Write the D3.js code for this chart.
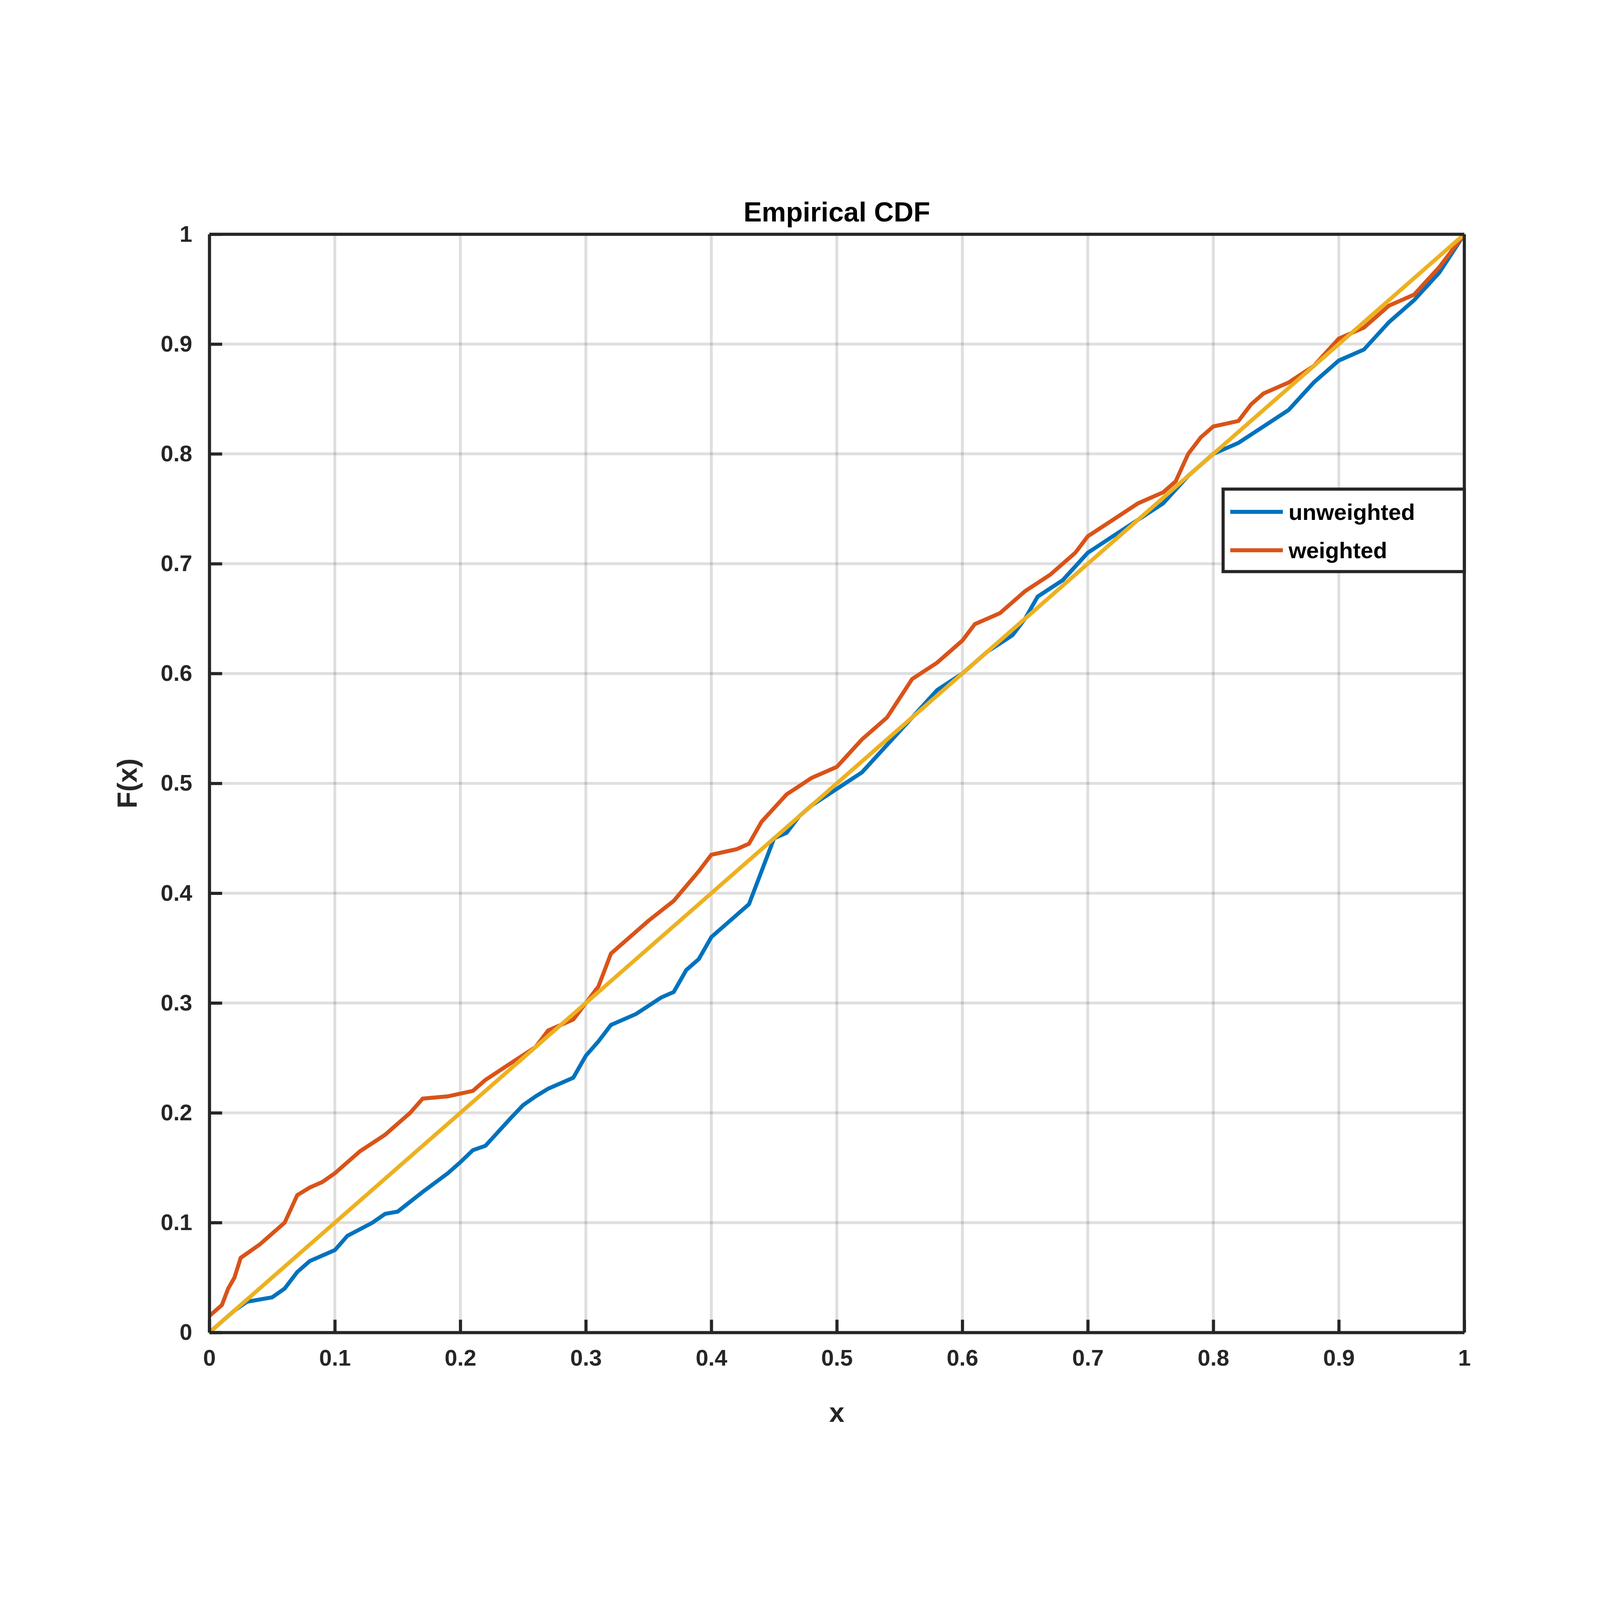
<!DOCTYPE html>
<html><head><meta charset="utf-8">
<script src="https://cdn.jsdelivr.net/npm/d3@7"></script>
<style>html,body{margin:0;padding:0;background:#fff;overflow:hidden}svg{display:block;width:100vw;height:100vh}</style>
</head><body><div id="chart"></div>
<script>
const xTicks = [0, 0.1, 0.2, 0.3, 0.4, 0.5, 0.6, 0.7, 0.8, 0.9, 1]
const yTicks = [0, 0.1, 0.2, 0.3, 0.4, 0.5, 0.6, 0.7, 0.8, 0.9, 1]
const unweightedX = [0,0.01,0.02,0.03,0.05,0.06,0.07,0.08,0.1,0.11,0.13,0.14,0.15,0.17,0.19,0.2,0.21,0.22,0.24,0.25,0.26,0.27,0.29,0.3,0.31,0.32,0.34,0.36,0.37,0.38,0.39,0.4,0.42,0.43,0.44,0.45,0.46,0.47,0.48,0.5,0.52,0.54,0.56,0.58,0.6,0.62,0.64,0.65,0.66,0.68,0.7,0.72,0.74,0.76,0.78,0.8,0.82,0.84,0.86,0.88,0.9,0.92,0.94,0.96,0.98,1]
const unweightedY = [0,0.01,0.02,0.028,0.032,0.04,0.055,0.065,0.075,0.088,0.1,0.108,0.11,0.128,0.145,0.155,0.166,0.17,0.195,0.207,0.215,0.222,0.232,0.252,0.265,0.28,0.29,0.305,0.31,0.33,0.34,0.36,0.38,0.39,0.42,0.45,0.455,0.47,0.48,0.495,0.51,0.535,0.56,0.585,0.6,0.62,0.635,0.65,0.67,0.685,0.71,0.725,0.74,0.755,0.78,0.8,0.81,0.825,0.84,0.865,0.885,0.895,0.92,0.94,0.965,1]
const weightedX = [0,0.01,0.015,0.02,0.025,0.04,0.05,0.06,0.07,0.08,0.09,0.1,0.12,0.14,0.16,0.17,0.19,0.21,0.22,0.24,0.26,0.27,0.29,0.3,0.31,0.32,0.33,0.35,0.37,0.39,0.4,0.42,0.43,0.44,0.46,0.48,0.5,0.52,0.54,0.56,0.58,0.6,0.61,0.63,0.65,0.67,0.69,0.7,0.72,0.74,0.76,0.77,0.78,0.79,0.8,0.82,0.83,0.84,0.86,0.88,0.9,0.92,0.94,0.96,0.98,1]
const weightedY = [0.015,0.025,0.04,0.05,0.068,0.08,0.09,0.1,0.125,0.132,0.137,0.145,0.165,0.18,0.2,0.213,0.215,0.22,0.23,0.245,0.26,0.275,0.285,0.3,0.315,0.345,0.355,0.375,0.393,0.42,0.435,0.44,0.445,0.465,0.49,0.505,0.515,0.54,0.56,0.595,0.61,0.63,0.645,0.655,0.675,0.69,0.71,0.725,0.74,0.755,0.765,0.775,0.8,0.815,0.825,0.83,0.845,0.855,0.865,0.88,0.905,0.915,0.935,0.945,0.97,1]
const refX = [0, 1]
const refY = [0, 1]

const W = 5625, H = 4688
const L = 736, R = 5148, T = 355, B = 4216
const font = '"Liberation Sans", Arial, sans-serif'

const svg = d3.select('#chart').append('svg')
  .attr('viewBox', `0 0 ${W} ${H}`).attr('preserveAspectRatio', 'xMidYMid meet')
const x = d3.scaleLinear().domain([0, 1]).range([L, R])
const y = d3.scaleLinear().domain([0, 1]).range([B, T])

// grid
svg.append('g').selectAll('line').data(xTicks).enter().append('line')
   .attr('x1', d => x(d)).attr('x2', d => x(d)).attr('y1', T).attr('y2', B)
   .attr('stroke', '#262626').attr('stroke-opacity', 0.15).attr('stroke-width', 10)
svg.append('g').selectAll('line').data(yTicks).enter().append('line')
   .attr('y1', d => y(d)).attr('y2', d => y(d)).attr('x1', L).attr('x2', R)
   .attr('stroke', '#262626').attr('stroke-opacity', 0.15).attr('stroke-width', 10)

const series = [
  {xs: unweightedX, ys: unweightedY, color: '#0072BD'},
  {xs: weightedX, ys: weightedY, color: '#D95319'},
  {xs: refX, ys: refY, color: '#EDB120'}
]
series.forEach(s => {
  const line = d3.line().x(d => x(d[0])).y(d => y(d[1]))
  svg.append('path').datum(s.xs.map((v, i) => [v, s.ys[i]]))
     .attr('d', line).attr('fill', 'none').attr('stroke', s.color).attr('stroke-width', 14)
})

// axes
const xAxis = svg.append('g').attr('transform', `translate(0,${B})`)
  .call(d3.axisBottom(x).tickValues(xTicks).tickFormat(d3.format('')).tickSizeInner(-45).tickSizeOuter(0).tickPadding(60))
const yAxis = svg.append('g').attr('transform', `translate(${L},0)`)
  .call(d3.axisLeft(y).tickValues(yTicks).tickFormat(d3.format('')).tickSizeInner(-45).tickSizeOuter(0).tickPadding(60))
;[xAxis, yAxis].forEach(a => {
  a.select('.domain').attr('stroke', '#262626').attr('stroke-width', 11)
  a.selectAll('.tick line').attr('stroke', '#262626').attr('stroke-width', 11)
  a.selectAll('text').attr('font-family', font).attr('font-weight', 'bold')
   .attr('font-size', 80).attr('fill', '#262626')
})
svg.append('line').attr('x1', L).attr('x2', R).attr('y1', T).attr('y2', T).attr('stroke', '#262626').attr('stroke-width', 11)
svg.append('line').attr('x1', R).attr('x2', R).attr('y1', T).attr('y2', B).attr('stroke', '#262626').attr('stroke-width', 11)

svg.append('text').attr('x', (L + R) / 2).attr('y', 310).attr('text-anchor', 'middle')
   .attr('font-family', font).attr('font-weight', 'bold').attr('font-size', 96).attr('fill', '#000')
   .text('Empirical CDF')
svg.append('text').attr('x', (L + R) / 2).attr('y', 4530).attr('text-anchor', 'middle')
   .attr('font-family', font).attr('font-weight', 'bold').attr('font-size', 96).attr('fill', '#262626')
   .text('x')
svg.append('text').attr('transform', `translate(480,${(T + B) / 2}) rotate(-90)`).attr('text-anchor', 'middle')
   .attr('font-family', font).attr('font-weight', 'bold').attr('font-size', 96).attr('fill', '#262626')
   .text('F(x)')

// legend
const lg = svg.append('g')
lg.append('rect').attr('x', 4300).attr('y', 1251).attr('width', 848).attr('height', 290)
  .attr('fill', '#fff').attr('stroke', '#262626').attr('stroke-width', 11)
;[['unweighted', '#0072BD'], ['weighted', '#D95319']].forEach((d, i) => {
  const cy = 1331 + i * 135
  lg.append('line').attr('x1', 4325).attr('x2', 4510).attr('y1', cy).attr('y2', cy)
    .attr('stroke', d[1]).attr('stroke-width', 14)
  lg.append('text').attr('x', 4530).attr('y', cy + 28).attr('font-family', font)
    .attr('font-weight', 'bold').attr('font-size', 80).attr('fill', '#000').text(d[0])
})
</script></body></html>
